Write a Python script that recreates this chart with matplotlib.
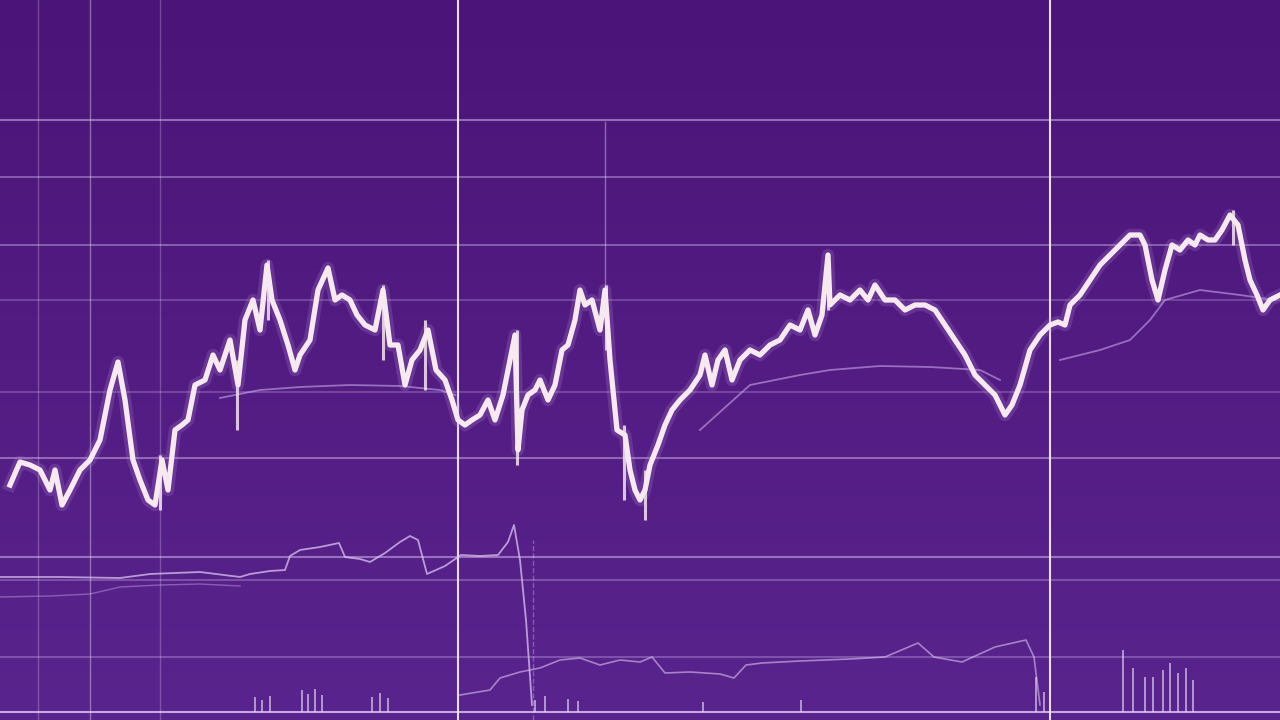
import numpy as np
import matplotlib.pyplot as plt

# price series (time index, price)
days = [10, 20, 30, 40, 50, 55, 62, 70, 80, 90, 100, 110, 118, 125, 133, 140, 148, 155,
        162, 168, 175, 182, 188, 195, 205, 213, 220, 230, 238, 245, 253, 260, 267, 272,
        280, 288, 295, 300, 310, 318, 328, 335, 342, 350, 357, 365, 375, 383, 390, 398,
        405, 412, 420, 428, 436, 445, 452, 458, 465, 472, 480, 488, 495, 503, 510, 515,
        518, 522, 528, 535, 540, 548, 555, 562, 568, 575, 580, 585, 592, 600, 605, 610,
        617, 625, 630, 635, 640, 645, 650, 658, 665, 672, 680, 690, 700, 705, 712, 718,
        725, 732, 740, 750, 760, 770, 780, 790, 800, 808, 815, 822, 828, 830, 840, 850,
        860, 868, 875, 885, 895, 905, 915, 925, 935, 945, 955, 965, 975, 985, 995, 1005,
        1012, 1020, 1030, 1040, 1050, 1058, 1065, 1070, 1080, 1090, 1100, 1110, 1120, 1130,
        1140, 1145, 1152, 1158, 1165, 1172, 1180, 1188, 1195, 1200, 1208, 1215, 1222, 1230,
        1238, 1245, 1250, 1257, 1263, 1270, 1280]
price = [23.5, 25.8, 25.5, 25.0, 23.0, 25.0, 21.5, 23.0, 25.0, 26.0, 28.0, 33.0, 35.8, 32.0,
         26.0, 24.0, 22.0, 21.5, 26.0, 23.0, 29.0, 29.5, 30.0, 33.5, 34.0, 36.5, 35.0, 38.0,
         33.5, 40.0, 42.0, 39.0, 45.5, 42.0, 40.0, 37.5, 35.0, 36.5, 38.0, 43.0, 45.2, 42.0,
         42.5, 42.0, 40.5, 39.5, 39.0, 43.0, 37.5, 37.5, 33.5, 36.0, 37.0, 39.0, 35.0, 34.0,
         32.0, 30.0, 29.5, 30.0, 30.5, 32.0, 30.0, 32.5, 36.0, 38.5, 27.0, 31.0, 32.5, 33.0,
         34.0, 32.0, 33.5, 37.0, 37.5, 40.0, 43.0, 41.5, 42.0, 39.0, 43.0, 36.0, 29.0, 28.5,
         25.0, 23.0, 22.0, 23.0, 25.5, 27.5, 29.5, 31.0, 32.0, 33.0, 34.5, 36.5, 33.5, 36.0,
         37.0, 34.0, 36.0, 37.0, 36.5, 37.5, 38.0, 39.5, 39.0, 41.0, 38.5, 40.5, 46.5, 41.5,
         42.5, 42.0, 43.0, 42.0, 43.5, 42.0, 42.0, 41.0, 41.5, 41.5, 41.0, 39.5, 38.0, 36.5,
         34.5, 33.5, 32.5, 30.5, 31.5, 33.5, 37.0, 38.5, 39.5, 39.8, 39.5, 41.5, 42.5, 44.0,
         45.5, 46.5, 47.5, 48.5, 48.5, 47.5, 44.0, 42.0, 45.0, 47.5, 47.0, 48.0, 47.5, 48.5,
         48.0, 48.0, 49.0, 50.5, 49.5, 46.0, 44.0, 42.5, 41.0, 42.0, 42.5]

# spikes (wicks)
wick_days = [160, 237, 268, 383, 425, 517, 606, 624, 645, 828, 1233]
wick_low = [21.0, 29.0, 40.0, 36.0, 33.0, 25.5, 37.0, 22.0, 20.0, 41.0, 47.5]
wick_high = [26.5, 36.0, 46.0, 43.5, 40.0, 39.0, 43.5, 29.5, 25.0, 46.5, 51.0]

# slow averages
ma1_days = [220, 260, 300, 350, 400, 440, 455]
ma1 = [32.2, 33.0, 33.3, 33.5, 33.4, 33.0, 32.5]
ma2_days = [700, 750, 800, 830, 880, 930, 980, 1000]
ma2 = [29.0, 33.5, 34.5, 35.0, 35.4, 35.3, 35.0, 34.0]
ma3_days = [1060, 1100, 1130, 1150, 1165, 1200, 1240, 1275]
ma3 = [36.0, 37.0, 38.0, 40.0, 42.0, 43.0, 42.5, 42.0]

# lower oscillators
osc1_days = [0, 60, 120, 150, 200, 240, 250, 270, 285, 290, 300, 320, 339, 345, 360, 370,
             385, 400, 410, 418, 427, 445, 461, 480, 498, 508, 514, 520, 526, 532]
osc1 = [14.3, 14.3, 14.2, 14.6, 14.8, 14.3, 14.6, 14.9, 15.0, 16.4, 17.0, 17.3, 17.7, 16.3,
        16.1, 15.8, 16.7, 17.8, 18.4, 18.0, 14.6, 15.4, 16.5, 16.4, 16.5, 17.8, 19.5, 16.0,
        10.0, 1.5]
osc0_days = [0, 50, 90, 120, 160, 200, 240]
osc0 = [12.3, 12.4, 12.6, 13.3, 13.5, 13.6, 13.4]
osc2_days = [460, 490, 500, 520, 540, 560, 580, 600, 620, 640, 652, 665, 690, 720, 734,
             746, 762, 800, 850, 885, 918, 934, 962, 995, 1026, 1034, 1040]
osc2 = [2.5, 3.0, 4.2, 4.8, 5.2, 6.0, 6.2, 5.5, 6.0, 5.8, 6.3, 4.7, 4.8, 4.6, 4.2, 5.5,
        5.7, 5.9, 6.1, 6.3, 7.7, 6.3, 5.8, 7.3, 8.0, 6.3, 1.5]

# volume spikes
vol_days = [255, 262, 270, 302, 308, 315, 322, 372, 380, 388, 535, 545, 568, 578,
            703, 801, 1036, 1044, 1123, 1133, 1145, 1153, 1163, 1170, 1178, 1186, 1193]
volume = [1.5, 1.2, 1.6, 2.2, 1.8, 2.3, 1.7, 1.5, 1.9, 1.4, 1.2, 1.6, 1.3, 1.1,
          1.0, 1.2, 3.5, 2.0, 6.2, 4.4, 3.5, 3.5, 4.2, 4.9, 3.9, 4.4, 3.2]

# grid
hgrid = [60.0, 54.3, 47.5, 42.0, 32.8, 26.2, 16.3, 14.0, 6.3, 0.8]
hgrid_alpha = [0.5, 0.4, 0.4, 0.25, 0.25, 0.45, 0.5, 0.3, 0.3, 0.85]
vgrid = [38, 90, 160, 458, 1050]
vgrid_alpha = [0.25, 0.4, 0.25, 0.95, 0.95]

fig = plt.figure(figsize=(12.8, 7.2), dpi=100)
ax = fig.add_axes([0, 0, 1, 1])
ax.set_xlim(0, 1280)
ax.set_ylim(0, 72)
ax.axis('off')

# purple gradient background
grad = np.linspace(0, 1, 256).reshape(-1, 1)
top = np.array([74, 20, 120]) / 255
bot = np.array([90, 36, 142]) / 255
bg = top + (bot - top) * grad[:, :, None]
ax.imshow(bg, extent=[0, 1280, 0, 72], origin='upper', aspect='auto', zorder=0)

for y, a in zip(hgrid, hgrid_alpha):
    ax.axhline(y, color='#d8c2f0', lw=1.5, alpha=a, zorder=1)
for x, a in zip(vgrid, vgrid_alpha):
    ax.axvline(x, color='#f2e8fa', lw=1.5 if a > 0.9 else 1.0, alpha=a, zorder=1)
ax.axvline(605, ymin=0.6, ymax=0.83, color='#f2e8fa', lw=1.0, alpha=0.4, zorder=1)
ax.axvline(533, ymin=0.0, ymax=0.25, color='#f2e8fa', lw=1.0, alpha=0.3, ls='--', zorder=1)

ax.plot(osc0_days, osc0, color='#c9a8e8', lw=1.0, alpha=0.45, zorder=2)
ax.plot(osc1_days, osc1, color='#dcc4f2', lw=1.3, alpha=0.75, zorder=2)
ax.plot(osc2_days, osc2, color='#dcc4f2', lw=1.2, alpha=0.6, zorder=2)
ax.vlines(vol_days, 0.8, [0.8 + v for v in volume], color='#e6d6f6', lw=1.2, alpha=0.75, zorder=2)

for d, v in [(ma1_days, ma1), (ma2_days, ma2), (ma3_days, ma3)]:
    ax.plot(d, v, color='#c9a8e8', lw=1.3, alpha=0.6, zorder=2)

# glow + main line
ax.plot(days, price, color='#b88ad8', lw=9, alpha=0.22, zorder=3, solid_joinstyle='round')
ax.vlines(wick_days, wick_low, wick_high, color='#f4e4ee', lw=2.2, alpha=0.85, zorder=4)
ax.plot(days, price, color='#f7e9f0', lw=3.8, zorder=5, solid_joinstyle='round')

fig.savefig('out.png', dpi=100)
